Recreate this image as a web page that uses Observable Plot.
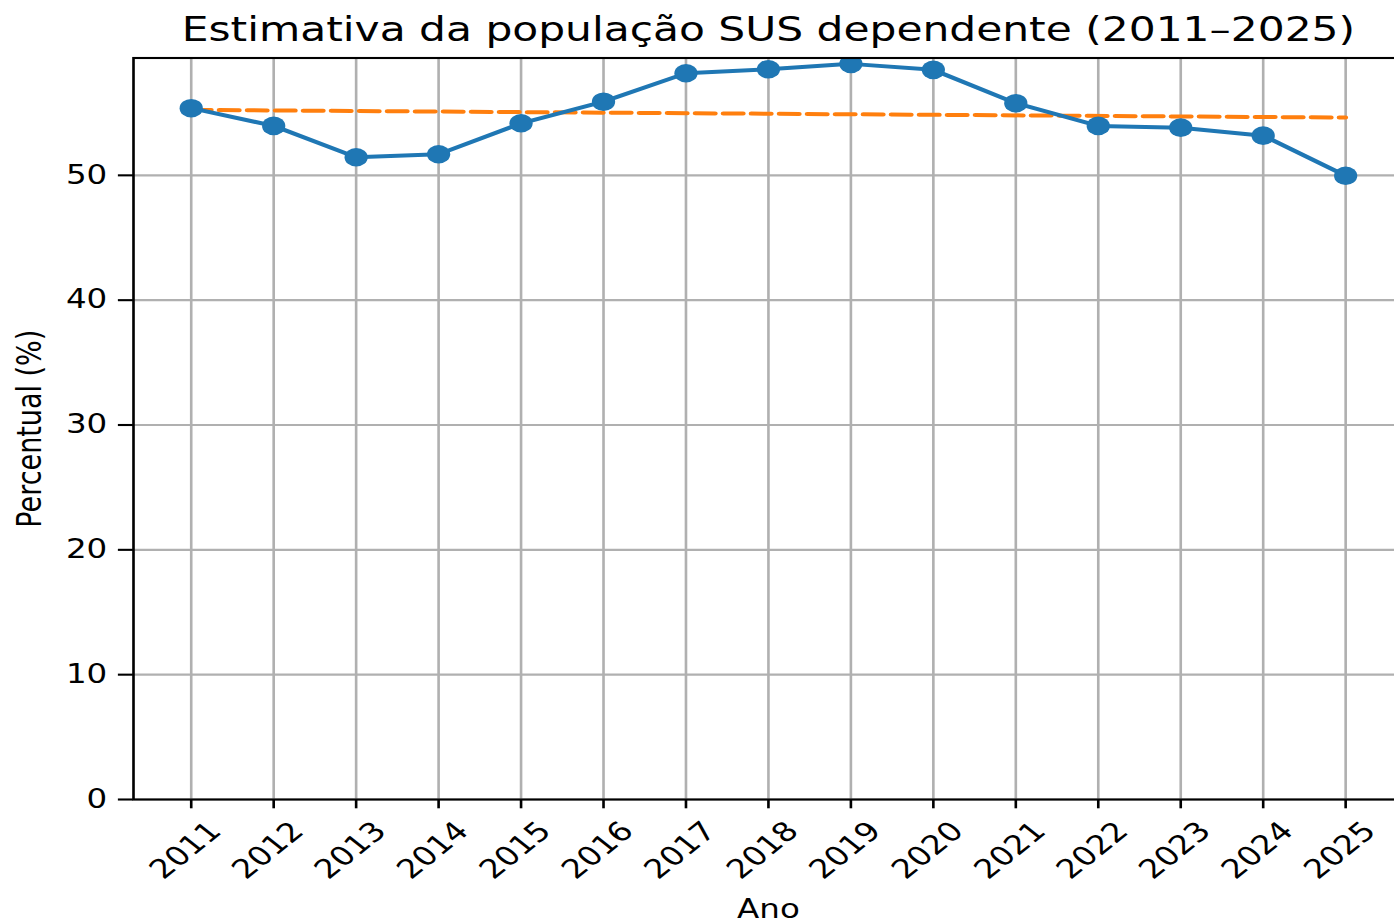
<!DOCTYPE html>
<html>
<head>
<meta charset="utf-8">
<script src="https://cdn.jsdelivr.net/npm/d3@7"></script>
<script src="https://cdn.jsdelivr.net/npm/@observablehq/plot@0.6"></script>
<style>
  html, body { margin: 0; padding: 0; background: white; overflow: hidden; }
  #chart { position: relative; width: 1394px; height: 923px; overflow: hidden; }
</style>
</head>
<body>
<div id="chart"></div>
<script>
// ---- data ----
const years = [2011, 2012, 2013, 2014, 2015, 2016, 2017, 2018, 2019, 2020, 2021, 2022, 2023, 2024, 2025];
const susValues = [55.38, 53.96, 51.45, 51.69, 54.17, 55.90, 58.18, 58.50, 58.93, 58.45, 55.78, 53.96, 53.82, 53.18, 49.97];
const trendYears = [2011, 2025];
const trendValues = [55.24, 54.63];
const yTicks = [0, 10, 20, 30, 40, 50];
const titleText = "Estimativa da população SUS dependente (2011–2025)";
const xLabelText = "Ano";
const yLabelText = "Percentual (%)";

const series = years.map((ano, i) => ({ano, valor: susValues[i]}));
const trend = trendYears.map((ano, i) => ({ano, valor: trendValues[i]}));

// the reference is horizontally stretched: draw unstretched, then scale x
const S = 1.25;
const W0 = 1130;
const H = 923;
const left = 106.3, right = 1122.2;

const grid = {stroke: "#b0b0b0", strokeOpacity: 1, strokeWidth: 2.1};

const svg = Plot.plot({
  width: W0,
  height: H,
  marginLeft: left,
  marginRight: W0 - right,
  marginTop: 57.5,
  marginBottom: 124,
  style: {fontFamily: "DejaVu Sans", fontSize: "26px", color: "black", background: "white", overflow: "visible"},
  x: {domain: [2010.3, 2025.7], axis: null},
  y: {domain: [0, 59.4], axis: null},
  marks: [
    Plot.gridX(years, grid),
    Plot.gridY(yTicks, grid),
    Plot.line(trend, {x: "ano", y: "valor", stroke: "#ff7f0e", strokeWidth: 4, strokeDasharray: "16,6.4"}),
    Plot.line(series, {x: "ano", y: "valor", stroke: "#1f77b4", strokeWidth: 4}),
    Plot.dot(series, {x: "ano", y: "valor", r: 9.3, fill: "#1f77b4", clip: true}),
    Plot.frame({stroke: "black", strokeWidth: 2.1}),
    Plot.axisX(years, {tickSize: 9.3, tickFormat: () => "", strokeWidth: 2.1, label: null}),
    Plot.text(years, {x: d => d, frameAnchor: "bottom", dx: 1.5, dy: 57, rotate: -45, text: d => String(d), fontSize: 26.5, fill: "black"}),
    Plot.axisY(yTicks, {tickSize: 12, tickPadding: 9, fontSize: 26, strokeWidth: 2.1, label: null, fill: "black"}),
    Plot.text([yLabelText], {frameAnchor: "left", dx: -82.3, rotate: -90, textAnchor: "middle", text: d => d, fontSize: 27, fill: "black"}),
    Plot.text([xLabelText], {frameAnchor: "bottom", dy: 118, lineAnchor: "bottom", text: d => d, fontSize: 26, fill: "black"}),
    Plot.text([titleText], {frameAnchor: "top", dy: -17.5, lineAnchor: "bottom", text: d => d, fontSize: 33.9, fill: "black"})
  ]
});

svg.setAttribute("preserveAspectRatio", "none");
svg.setAttribute("width", W0 * S);
svg.setAttribute("height", H);
svg.style.maxWidth = "none";
svg.style.width = (W0 * S) + "px";
svg.style.height = H + "px";
svg.style.display = "block";
document.getElementById("chart").appendChild(svg);
</script>
</body>
</html>
